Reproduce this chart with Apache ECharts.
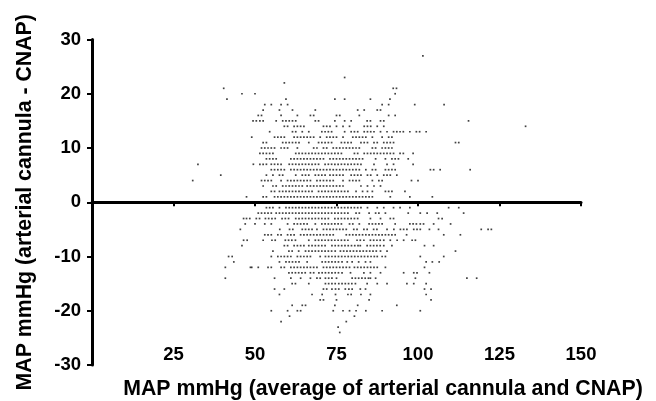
<!DOCTYPE html>
<html>
<head>
<meta charset="utf-8">
<style>
  html, body { margin: 0; padding: 0; background: #fff; }
  #chart { width: 656px; height: 401px; }
</style>
<script src="https://cdn.jsdelivr.net/npm/echarts@6/dist/echarts.min.js"></script>
</head>
<body>
<div id="chart"></div>
<script>
// mean MAP values, one list per difference level
const rowP27 = [101.5]
const rowP23 = [77.5]
const rowP22 = [59]
const rowP21 = [40.4, 92.4, 93.4]
const rowP20 = [46, 50, 93]
const rowP19 = [41.4, 59.5, 74.5, 77.5, 85.4, 91.4]
const rowP18 = [53, 55, 58, 60, 89, 91, 99, 108]
const rowP17 = [52.5, 57.5, 61.5, 68.5, 81.5, 83.5, 87.5, 88.5]
const rowP16 = [51, 52, 58, 63, 67, 68, 75, 76, 82, 91, 93]
const rowP15 = [49.4, 50.4, 51.5, 52.5, 56.5, 58.5, 59.5, 60.5, 61.5, 62.5, 68.5, 69.5, 74.5, 77.5, 79.5, 84.4, 85.4, 88.5, 89.5, 115.5]
const rowP14 = [59, 60, 62, 63, 64, 65, 71, 72, 73, 75, 77, 79, 83.5, 84.5, 85.5, 87.5, 89.5, 133]
const rowP13 = [54.5, 61.5, 62.5, 64.5, 66.5, 70.5, 71.5, 72.5, 73.5, 77.5, 79.5, 80.5, 81.5, 83.5, 84.5, 85.5, 86.5, 88.5, 90.5, 92.5, 93.5, 94.5, 95.5, 97.5, 99.5, 100.5, 102.5]
const rowP12 = [49, 56, 57, 58, 59, 62, 63, 64, 65, 66, 67, 68, 70, 72, 73, 74, 75, 77, 80, 81, 82, 83, 84, 86, 89, 91, 92]
const rowP11 = [52.5, 53.5, 58.5, 59.5, 60.5, 61.5, 62.5, 63.5, 66.5, 69.5, 70.5, 71.5, 72.5, 73.5, 76.5, 77.5, 78.5, 79.5, 82.5, 83.5, 84.5, 86.5, 87.5, 89.5, 90.5, 91.5, 92.5, 111.5, 112.5]
const rowP10 = [52, 53, 54, 55, 56, 58, 59, 60, 63, 68, 69, 71, 72, 74, 75, 76, 77, 78, 79, 80, 81, 82, 86, 87, 89, 90, 91, 92]
const rowP9 = [51.5, 52.5, 53.5, 54.5, 55.5, 62.5, 63.5, 64.5, 65.5, 66.5, 67.5, 68.5, 69.5, 70.5, 71.5, 72.5, 73.5, 74.5, 75.5, 76.5, 80.5, 81.5, 83.5, 84.5, 85.5, 86.5, 87.5, 88.5, 89.5, 90.5, 91.5, 92.5, 94.5, 95.5, 98.5]
const rowP8 = [53.5, 54.5, 55.5, 56.5, 61, 62, 63, 64, 65, 66, 67, 68, 69, 70, 71, 73, 74, 75, 76, 77, 78, 79, 80, 81, 82, 83, 87, 90, 92, 93, 94, 97]
const rowP7 = [32.5, 49.5, 51.5, 52.5, 53.5, 55, 56, 57, 58, 60.5, 61.5, 62.5, 63.5, 64.5, 65.5, 66.5, 67.5, 68.5, 69.5, 71.5, 72.5, 73.5, 74.5, 75.5, 76.5, 77.5, 78.5, 79.5, 80.5, 81.5, 82.5, 86.5, 90.5, 92.5, 98.5]
const rowP6 = [55, 56, 57, 58, 59, 61, 62, 63, 64, 65, 66, 67, 68, 69, 70, 71, 72, 73, 74, 75, 76, 77, 78, 79, 80, 81, 82, 84, 86, 87, 90, 91, 92, 93, 103.8, 104.8, 106.8, 116]
const rowP5 = [39.5, 53.5, 55.5, 57.5, 58.5, 62.5, 64.5, 65.5, 66.5, 68.5, 69.5, 70.5, 71.5, 73, 74, 75, 76, 77, 79.5, 80.5, 81.5, 82.5, 84.5, 85.5, 87.5, 89.5, 90.5, 91.5, 93.5]
const rowP4 = [30.9, 52, 53, 54, 55, 58, 60, 61, 62, 63, 64, 65, 66, 67, 69, 70, 71, 72, 73, 74, 77, 79, 80, 81, 82, 86, 88, 89, 98, 100]
const rowP3 = [52.5, 55.5, 56.5, 58.5, 59.5, 60.5, 61.5, 62.5, 63.5, 64.5, 66, 67, 68, 69, 70, 71, 72, 73, 74, 75, 76, 77, 82.5, 84.5, 86.5, 88.5]
const rowP2 = [55, 56, 57.5, 58.5, 59.5, 60.5, 61.5, 62.5, 63.5, 64.5, 65.5, 66.5, 67.5, 69.5, 70.5, 71.5, 72.5, 73.5, 74.5, 75.5, 76.5, 77.5, 78.5, 81, 83, 84.5, 86, 90, 91, 92, 96]
const rowP1 = [47.4, 52.5, 53.5, 56, 57, 58, 59, 60, 61, 62, 63, 64, 65, 66, 67, 68, 69, 70, 71, 72, 73, 74, 75, 76, 77, 78, 79, 80, 81, 82, 83, 84, 85, 86, 91.5, 97.5, 104.4]
const rowM1 = [53.5, 54.5, 55.5, 57.5, 59.5, 60.5, 61.5, 62.5, 63.5, 64.5, 65.5, 66.5, 67.5, 68.5, 69.5, 70.5, 71.5, 72.5, 73.5, 74.5, 75.5, 76.5, 77.5, 78.5, 79.5, 80.5, 81.5, 82.5, 84.5, 87.5, 89.5, 92.5, 94.5, 97.5, 109.4, 112.5]
const rowM2 = [51, 52, 53, 54, 55, 56.5, 57.5, 58.5, 59.5, 60.5, 61.5, 62.5, 63.5, 64.5, 65.5, 66.5, 67.5, 68.5, 69.5, 70.5, 71.5, 72.5, 73.5, 74.5, 75.5, 76.5, 77.5, 78.5, 81, 82, 85, 87, 88, 90, 97, 100.7, 102.8, 105.9, 114]
const rowM3 = [46.5, 47.4, 48.4, 50.4, 51.4, 53.2, 54.2, 55.2, 56.2, 58.3, 59.3, 60.3, 62.5, 63.5, 64.5, 65.5, 66.5, 67.5, 68.5, 69.5, 70.5, 71.5, 72.5, 74.5, 75.5, 76.5, 77.5, 78.5, 79.5, 80.5, 81.5, 85.4, 88.5, 91.5, 92.5, 106.3, 107.4]
const rowM4 = [47, 50, 53, 55, 60, 62, 63, 64, 65, 66, 68.5, 70.5, 71.5, 72.5, 73.5, 74.5, 75.5, 76.5, 79, 80, 82, 85, 86, 87, 88, 89, 93, 97.5, 98.5, 99.5, 100.7, 101.7, 104.8, 110]
const rowM5 = [45.5, 57.6, 60.6, 61.6, 64.5, 65.5, 66.5, 67.5, 69, 71, 72, 73, 74, 75, 76, 77, 78, 80.3, 81.3, 83.4, 84.4, 86.4, 87.4, 90.5, 92.6, 94.6, 95.6, 96.6, 98.7, 99.7, 100.7, 103.5, 106.3, 119.4, 121.5, 122.5]
const rowM6 = [53, 54, 55, 57, 58, 60, 61, 62, 64, 65, 66, 67, 68, 69, 70, 71, 72, 73, 74, 78, 79, 80, 81, 82, 83, 84, 85, 86, 87, 88, 89, 90, 91, 92, 93, 96.5, 107.9, 113]
const rowM7 = [46.5, 47.6, 52.5, 55.2, 56.2, 59.3, 60.3, 61.3, 62.4, 66.5, 68.5, 69.5, 70.5, 71.5, 72.5, 73.5, 74.5, 75.5, 76.5, 77.5, 78.5, 81.3, 82.3, 83.4, 85.4, 86.4, 87.4, 88.4, 89.5, 91.5, 93.6, 95.6, 98.2, 99.2]
const rowM8 = [46, 59, 60, 62, 63, 64, 65, 66.5, 67.5, 68.5, 69.5, 70.5, 71.5, 73.6, 74.6, 75.6, 76.6, 77.6, 78.6, 79.6, 80.6, 81.6, 82.3, 84.4, 85.4, 86.4, 87.4, 88.4, 89.5, 92, 102, 104.8]
const rowM9 = [55.5, 60.4, 61.4, 63.4, 65.5, 66.5, 67.5, 68.5, 69.5, 70.5, 71.5, 72.5, 73.5, 74.6, 76.2, 77.2, 78.2, 79.2, 80.2, 81.2, 82.2, 83.2, 84.2, 85.2, 86.2, 87.2, 88.5, 90.5, 111.5]
const rowM10 = [41.9, 43, 55, 57, 58, 59, 60, 61, 63, 64, 65, 66, 67, 70, 71.6, 72.6, 73.6, 74.6, 75.6, 76.6, 77.6, 78.6, 79.6, 80.6, 81.6, 82.6, 83.6, 84.6, 85.6, 86.6, 87.5, 89, 90, 100.7, 107.9]
const rowM11 = [43.5, 57.5, 59.5, 60.5, 61.5, 62.5, 63.5, 66, 70.6, 71.6, 72.6, 73.6, 74.6, 75.6, 76.7, 78.3, 79.8, 81.8, 83.9, 85.4, 102.5, 104.4, 106.5]
const rowM12 = [40.9, 48.6, 49, 51, 54, 55, 58, 59, 61, 62, 63, 64, 65, 66, 67, 68, 69, 71, 72, 73, 74, 75, 76, 77, 78, 79, 80.5, 81.5, 82.5, 83.5, 84.5, 85.5, 86.5, 87.5, 90, 102]
const rowM13 = [60.4, 61.4, 62.4, 63.4, 64.4, 65.4, 67, 68, 69.6, 70.6, 71.6, 72.6, 73.6, 74.6, 75.6, 76.7, 79.3, 83.4, 85.4, 88.5, 95.6, 98.7, 99.7, 103.5]
const rowM14 = [40.9, 56, 61, 64, 67, 69, 70, 71.6, 72.6, 73.6, 75, 79.8, 80.8, 81.8, 82.8, 83.8, 84.8, 85.4, 87, 99.2, 115, 118]
const rowM15 = [61.4, 62.4, 66.5, 71.6, 72.6, 73.6, 74.6, 75.7, 76.7, 77.7, 78.7, 79.7, 80.8, 84.4, 87.5, 90.5, 96.6, 98.7, 102.5]
const rowM16 = [56, 59, 71, 72, 73.6, 74.7, 75.7, 77.7, 78.8, 79.8, 82.3, 83.9, 102, 104]
const rowM17 = [57.5, 67.5, 70.6, 74.7, 78.5, 79.5, 82.5, 85.4, 102.5]
const rowM18 = [70, 71, 75, 85, 104]
const rowM19 = [61.4, 64.5, 65.5, 74.5, 81.5, 93.5]
const rowM20 = [55, 60, 63, 64, 74, 77, 79, 81, 84, 89, 100.7]
const rowM21 = [60.6, 80.5]
const rowM22 = [58, 78]
const rowM23 = [75.5]
const rowM24 = [76]

const diffLevels = [27, 23, 22, 21, 20, 19, 18, 17, 16, 15, 14, 13, 12, 11, 10, 9, 8, 7, 6, 5, 4, 3, 2, 1,
  -1, -2, -3, -4, -5, -6, -7, -8, -9, -10, -11, -12, -13, -14, -15, -16, -17, -18, -19, -20, -21, -22, -23, -24]
const rows = [rowP27, rowP23, rowP22, rowP21, rowP20, rowP19, rowP18, rowP17, rowP16, rowP15, rowP14, rowP13, rowP12,
  rowP11, rowP10, rowP9, rowP8, rowP7, rowP6, rowP5, rowP4, rowP3, rowP2, rowP1,
  rowM1, rowM2, rowM3, rowM4, rowM5, rowM6, rowM7, rowM8, rowM9, rowM10, rowM11, rowM12, rowM13, rowM14, rowM15, rowM16,
  rowM17, rowM18, rowM19, rowM20, rowM21, rowM22, rowM23, rowM24]

const points = []
rows.forEach((row, i) => row.forEach(x => points.push([x, diffLevels[i]])))

const chart = echarts.init(document.getElementById('chart'), null, { renderer: 'canvas' })
const axisFont = { color: '#000', fontFamily: 'Liberation Sans', fontWeight: 'bold', fontSize: 18.5 }
const titleFont = { color: '#000', fontFamily: 'Liberation Sans', fontWeight: 'bold', fontSize: 21.3 }

chart.setOption({
  animation: false,
  backgroundColor: '#fff',
  grid: { left: 92, right: 75, top: 39.5, bottom: 36, outerBoundsMode: 'none' },
  xAxis: {
    type: 'value',
    min: 0,
    max: 150,
    interval: 25,
    splitLine: { show: false },
    axisLine: { onZero: true, lineStyle: { color: '#000', width: 3 } },
    axisTick: { length: 4, lineStyle: { color: '#000', width: 2 } },
    axisLabel: { ...axisFont, margin: -20, showMinLabel: false },
    name: 'MAP mmHg (average of arterial cannula and CNAP)',
    nameLocation: 'middle',
    nameGap: 14,
    nameTextStyle: { ...titleFont, padding: [0, 0, 0, 93] }
  },
  yAxis: {
    type: 'value',
    min: -30,
    max: 30,
    interval: 10,
    splitLine: { show: false },
    axisLine: { onZero: false, lineStyle: { color: '#000', width: 3 } },
    axisTick: { length: 5, lineStyle: { color: '#000', width: 2 } },
    axisLabel: { ...axisFont, margin: 11 },
    name: 'MAP mmHg (arterial cannula - CNAP)',
    nameLocation: 'middle',
    nameGap: 56,
    nameRotate: 90,
    nameTextStyle: titleFont
  },
  series: [{
    type: 'scatter',
    data: points,
    symbol: 'rect',
    symbolSize: 1.7,
    itemStyle: { color: '#111' },
    silent: true,
    z: 1
  }]
})
</script>
</body>
</html>
